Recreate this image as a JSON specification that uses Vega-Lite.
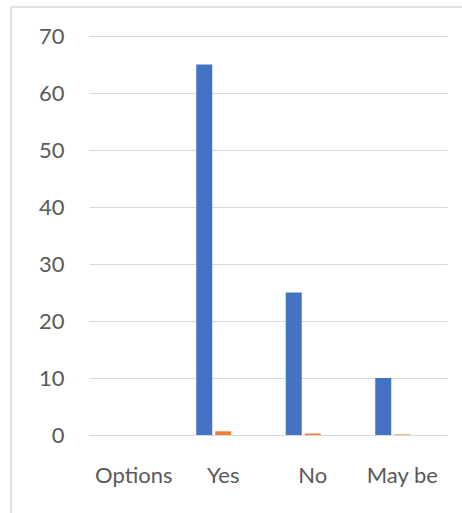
{
  "$schema": "https://vega.github.io/schema/vega-lite/v6.json",
  "width": 358,
  "height": 399,
  "autosize": {"type": "none"},
  "padding": {"left": 89, "top": 36, "right": 15, "bottom": 78},
  "background": "white",
  "config": {
    "view": {"stroke": null},
    "font": "Lato",
    "axis": {
      "labelFont": "Lato",
      "labelFontSize": 22,
      "labelColor": "#595959",
      "domain": false,
      "ticks": false,
      "gridColor": "#D9D9D9",
      "gridWidth": 1,
      "title": null
    }
  },
  "layer": [
    {
      "data": {
        "values": [
          {"answer": "Yes", "series": "Series1", "value": 65},
          {"answer": "Yes", "series": "Series2", "value": 0.65},
          {"answer": "No", "series": "Series1", "value": 25},
          {"answer": "No", "series": "Series2", "value": 0.25},
          {"answer": "May be", "series": "Series1", "value": 10},
          {"answer": "May be", "series": "Series2", "value": 0.1}
        ]
      },
      "mark": {"type": "bar"},
      "encoding": {
        "x": {
          "field": "answer",
          "type": "nominal",
          "sort": null,
          "scale": {"domain": ["Options", "Yes", "No", "May be"], "paddingInner": 0, "paddingOuter": 0},
          "axis": {"labelAngle": 0, "labelPadding": 30, "grid": false}
        },
        "xOffset": {
          "field": "series",
          "type": "nominal",
          "scale": {"domain": ["Series1", "Series2", "Series3"], "paddingInner": 0.158, "paddingOuter": 0.934}
        },
        "y": {
          "field": "value",
          "type": "quantitative",
          "scale": {"domain": [0, 70], "nice": false},
          "axis": {"values": [0, 10, 20, 30, 40, 50, 60, 70], "grid": true, "labelPadding": 25}
        },
        "color": {
          "field": "series",
          "type": "nominal",
          "scale": {"domain": ["Series1", "Series2", "Series3"], "range": ["#4472C4", "#ED7D31", "#A5A5A5"]},
          "legend": null
        }
      }
    },
    {
      "data": {"values": [{}]},
      "mark": {"type": "rule", "color": "#D9D9D9", "strokeWidth": 1.5},
      "encoding": {
        "x": {"datum": "Options", "type": "nominal", "bandPosition": -0.8715},
        "x2": {"datum": "May be", "bandPosition": 1.3},
        "y": {"datum": 75.09, "type": "quantitative"}
      }
    },
    {
      "data": {"values": [{}]},
      "mark": {"type": "rule", "color": "#D9D9D9", "strokeWidth": 1.5},
      "encoding": {
        "x": {"datum": "Options", "type": "nominal", "bandPosition": -0.8715},
        "y": {"datum": 75.09, "type": "quantitative"},
        "y2": {"datum": -20}
      }
    }
  ]
}
